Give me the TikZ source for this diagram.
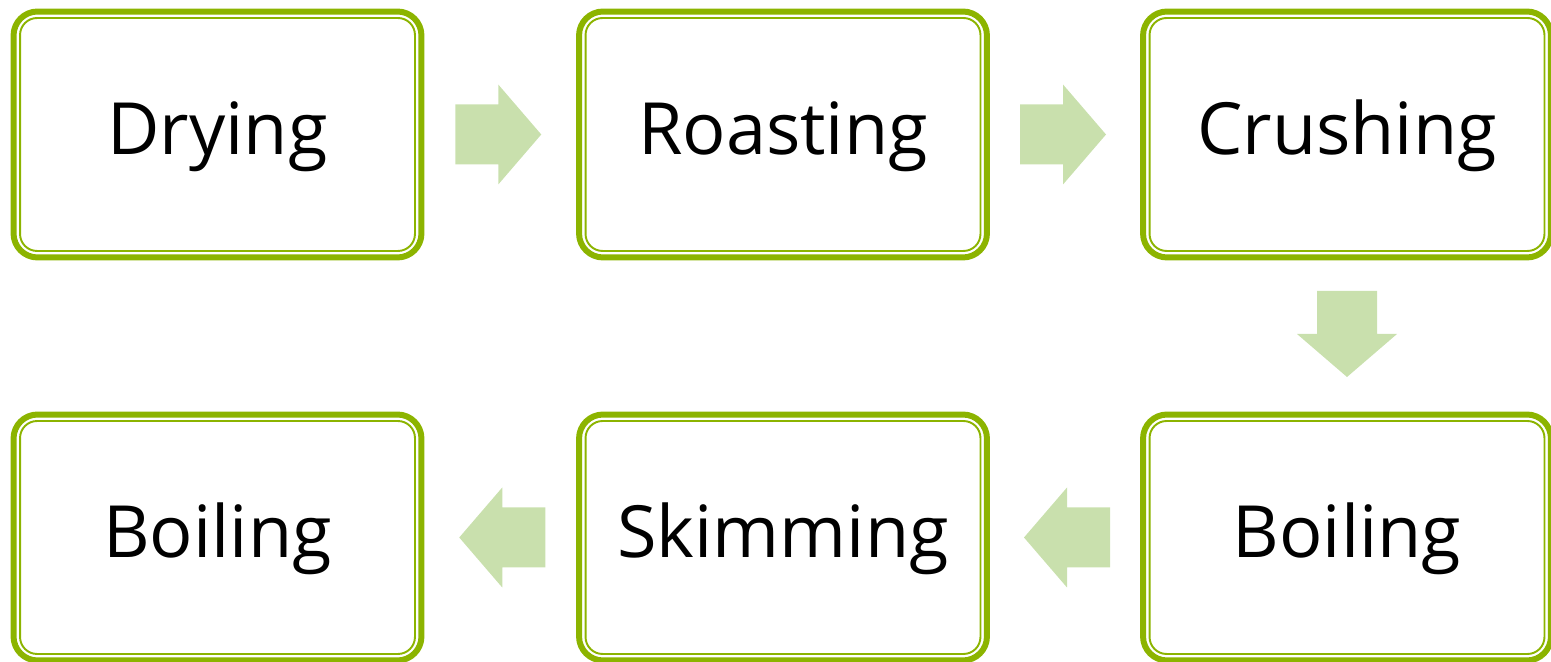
\documentclass[tikz,border=0pt]{standalone}
\usepackage{fontspec}
\setmainfont{Open Sans}
\usetikzlibrary{calc}
\definecolor{leaf}{RGB}{140,180,0}
\definecolor{pale}{RGB}{201,224,173}
\tikzset{
  stage/.style={draw=leaf,line width=3.4pt,rounded corners=0.48cm,outer sep=0pt,
    minimum width=8.16cm,minimum height=4.92cm,text height=30pt,text depth=7pt,
    font=\fontsize{41}{49}\selectfont},
  rim/.style={draw=leaf,line width=1.1pt,rounded corners=0.34cm},
  flow/.pic={\fill[pale] (-45,-30) -- (-2,-30) -- (-2,-50) -- (41,0) -- (-2,50) -- (-2,30) -- (-45,30) -- cycle;}
}

\begin{document}
\begin{tikzpicture}[x=0.02cm,y=0.02cm]
  \useasboundingbox (0,0) rectangle (1551,662);
  \node[stage] (dry)   at (217.5,527.5) {Drying};
  \node[stage] (roast) at (783,527.5)   {Roasting};
  \node[stage] (crush) at (1347,527.5)  {Crushing};
  \node[stage] (boilA) at (1347,124.5)  {Boiling};
  \node[stage] (skim)  at (783,124.5)   {Skimming};
  \node[stage] (boilB) at (217.5,124.5) {Boiling};
  \foreach \n in {dry,roast,crush,boilA,skim,boilB}
    \draw[rim] ([shift={(0.13cm,-0.13cm)}]\n.north west) rectangle ([shift={(-0.13cm,0.13cm)}]\n.south east);
  \pic             at ($(dry.east)!0.5!(roast.west)$)   {flow};
  \pic             at ($(roast.east)!0.5!(crush.west)$) {flow};
  \pic[rotate=-90] at ($(crush.south)!0.5!(boilA.north)$) {flow};
  \pic[rotate=180] at ($(boilA.west)!0.5!(skim.east)$)  {flow};
  \pic[rotate=180] at ($(skim.west)!0.5!(boilB.east)$)  {flow};
\end{tikzpicture}
\end{document}
